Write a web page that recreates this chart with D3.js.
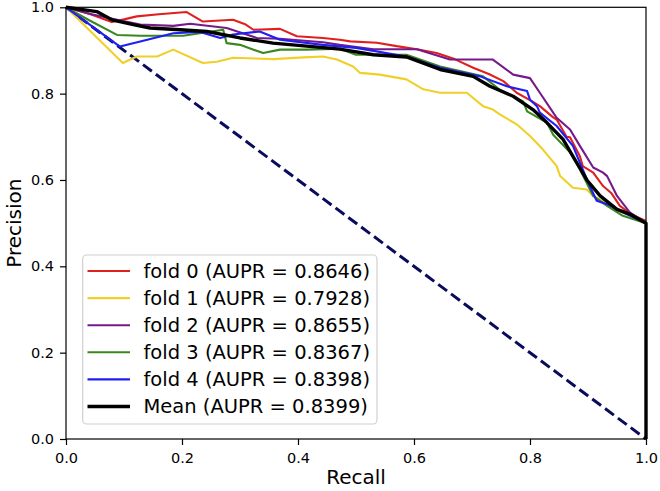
<!DOCTYPE html>
<html>
<head>
<meta charset="utf-8">
<script src="https://cdn.jsdelivr.net/npm/d3@7"></script>
<style>
  html, body { margin: 0; padding: 0; background: #fff; }
  svg { display: block; }
  text { font-family: "DejaVu Sans", sans-serif; fill: #000; }
</style>
</head>
<body>
<svg id="chart" width="660" height="491"></svg>
<script>
// ---- data (recall, precision) ----
const fold0 = [[0,1],[0.04,0.985],[0.079,0.966],[0.1,0.972],[0.122,0.979],[0.16,0.984],[0.208,0.989],[0.236,0.967],[0.288,0.971],[0.31,0.96],[0.323,0.948],[0.369,0.950],[0.398,0.933],[0.443,0.929],[0.472,0.925],[0.49,0.921],[0.536,0.918],[0.57,0.91],[0.605,0.903],[0.639,0.894],[0.67,0.88],[0.702,0.860],[0.73,0.845],[0.754,0.829],[0.777,0.802],[0.8,0.785],[0.817,0.771],[0.84,0.745],[0.846,0.740],[0.863,0.700],[0.869,0.699],[0.886,0.655],[0.891,0.632],[0.909,0.617],[0.926,0.586],[0.94,0.57],[0.955,0.54],[0.975,0.52],[1,0.505]];
const fold1 = [[0,1],[0.098,0.871],[0.122,0.886],[0.157,0.886],[0.185,0.902],[0.236,0.871],[0.26,0.874],[0.288,0.883],[0.357,0.880],[0.41,0.884],[0.443,0.886],[0.467,0.879],[0.495,0.863],[0.507,0.848],[0.541,0.844],[0.587,0.833],[0.616,0.810],[0.645,0.802],[0.691,0.802],[0.719,0.771],[0.736,0.763],[0.748,0.752],[0.777,0.729],[0.8,0.702],[0.822,0.671],[0.846,0.632],[0.852,0.609],[0.874,0.582],[0.898,0.578],[0.909,0.563],[0.93,0.548],[0.96,0.525],[1,0.5]];
const fold2 = [[0,1],[0.04,0.985],[0.088,0.971],[0.128,0.960],[0.185,0.957],[0.214,0.962],[0.277,0.952],[0.329,0.929],[0.369,0.927],[0.443,0.919],[0.472,0.913],[0.53,0.903],[0.605,0.903],[0.662,0.879],[0.736,0.879],[0.771,0.844],[0.80,0.836],[0.817,0.802],[0.846,0.744],[0.869,0.717],[0.886,0.679],[0.909,0.629],[0.926,0.617],[0.933,0.609],[0.95,0.563],[0.972,0.525],[1,0.5]];
const fold3 = [[0,1],[0.04,0.97],[0.088,0.936],[0.128,0.934],[0.202,0.934],[0.271,0.948],[0.277,0.917],[0.30,0.913],[0.34,0.894],[0.369,0.902],[0.415,0.902],[0.472,0.904],[0.5,0.89],[0.587,0.890],[0.645,0.863],[0.719,0.840],[0.748,0.809],[0.788,0.782],[0.795,0.759],[0.829,0.733],[0.84,0.705],[0.869,0.664],[0.886,0.625],[0.909,0.563],[0.933,0.540],[0.96,0.517],[1,0.5]];
const fold4 = [[0,1],[0.093,0.909],[0.128,0.921],[0.185,0.940],[0.231,0.943],[0.266,0.929],[0.288,0.937],[0.334,0.944],[0.369,0.925],[0.443,0.913],[0.5,0.906],[0.587,0.886],[0.645,0.860],[0.714,0.840],[0.76,0.817],[0.795,0.806],[0.80,0.786],[0.812,0.771],[0.817,0.756],[0.846,0.725],[0.874,0.679],[0.886,0.640],[0.903,0.586],[0.915,0.552],[0.933,0.544],[0.96,0.525],[1,0.5]];
const meanCurve = [[0,1],[0.053,0.99],[0.079,0.971],[0.116,0.960],[0.145,0.952],[0.197,0.948],[0.243,0.944],[0.30,0.929],[0.357,0.917],[0.415,0.910],[0.472,0.903],[0.53,0.890],[0.587,0.885],[0.645,0.856],[0.702,0.840],[0.731,0.817],[0.771,0.794],[0.805,0.763],[0.829,0.733],[0.857,0.694],[0.874,0.655],[0.898,0.600],[0.921,0.563],[0.95,0.532],[0.972,0.521],[1,0.5],[1,0]];
const chance = [[0,1],[1,0]];

const seriesNames = ["fold 0 (AUPR = 0.8646)","fold 1 (AUPR = 0.7928)","fold 2 (AUPR = 0.8655)","fold 3 (AUPR = 0.8367)","fold 4 (AUPR = 0.8398)","Mean (AUPR = 0.8399)"];
const seriesData = [fold0, fold1, fold2, fold3, fold4, meanCurve];
const seriesColors = ["#e0201e","#f0d028","#761a8a","#3a8720","#1f1ff5","#000000"];
const seriesWidths = [2.1,2.1,2.1,2.1,2.1,3.4];
const ticks = [0,0.2,0.4,0.6,0.8,1.0];

// ---- layout ----
const svg = d3.select("#chart");
const L = 66, R = 646, T = 7.3, B = 439;
const x = d3.scaleLinear().domain([0,1]).range([L,R]);
const y = d3.scaleLinear().domain([0,1]).range([B,T]);

const line = d3.line().x(d=>x(d[0])).y(d=>y(d[1]));

// chance diagonal
svg.append("path").datum(chance).attr("d", line)
  .attr("fill","none").attr("stroke","#0b0b5e").attr("stroke-width",3)
  .attr("stroke-dasharray","11,5");

// fold curves + mean
seriesData.forEach((s,i)=>{
  svg.append("path").datum(s).attr("d", line)
    .attr("fill","none").attr("stroke",seriesColors[i])
    .attr("stroke-width",seriesWidths[i]).attr("stroke-linejoin","round");
});

// axes
const fmt = d3.format(".1f");
const xAxis = svg.append("g").attr("transform",`translate(0,${B})`)
  .call(d3.axisBottom(x).tickValues(ticks).tickFormat(fmt).tickSize(6).tickPadding(8));
const yAxis = svg.append("g").attr("transform",`translate(${L},0)`)
  .call(d3.axisLeft(y).tickValues(ticks).tickFormat(fmt).tickSize(6).tickPadding(6));
[xAxis,yAxis].forEach(g=>{
  g.select(".domain").remove();
  g.selectAll("line").attr("stroke","#000").attr("stroke-width",1.2);
  g.selectAll("text").attr("font-family","DejaVu Sans").attr("font-size",14.5).attr("fill","#000");
});

// frame
svg.append("rect").attr("x",L).attr("y",T).attr("width",R-L).attr("height",B-T)
  .attr("fill","none").attr("stroke","#000").attr("stroke-width",1.2);

// labels
svg.append("text").attr("x",(L+R)/2).attr("y",484).attr("text-anchor","middle")
  .attr("font-size",20).text("Recall");
svg.append("text").attr("transform",`translate(21,${(T+B)/2}) rotate(-90)`)
  .attr("text-anchor","middle").attr("font-size",20).text("Precision");

// legend
const lg = svg.append("g");
lg.append("rect").attr("x",82.7).attr("y",255).attr("width",294.3).attr("height",169)
  .attr("rx",4).attr("fill","#fff").attr("fill-opacity",0.8).attr("stroke","#d0d0d0").attr("stroke-width",1.2);
seriesNames.forEach((n,i)=>{
  const cy = 271 + i*27.1;
  lg.append("line").attr("x1",87.5).attr("x2",130).attr("y1",cy).attr("y2",cy)
    .attr("stroke",seriesColors[i]).attr("stroke-width",seriesWidths[i]);
  lg.append("text").attr("x",143.5).attr("y",cy).attr("dy","0.35em")
    .attr("font-size",19.5).text(n);
});
</script>
</body>
</html>
